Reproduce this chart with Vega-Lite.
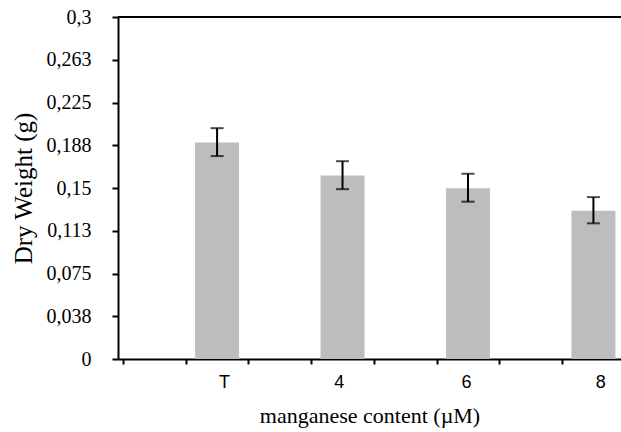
{
  "$schema": "https://vega.github.io/schema/vega-lite/v6.json",
  "width": 503,
  "height": 342,
  "autosize": {"type": "none"},
  "padding": {"left": 118, "top": 17, "right": 0, "bottom": 73},
  "background": "white",
  "config": {
    "view": {"stroke": null},
    "axis": {"domainColor": "black", "domainWidth": 2, "tickColor": "black", "tickWidth": 2, "labelColor": "black", "titleColor": "black", "grid": false}
  },
  "data": {
    "values": [
      {"group": "T", "pos": 1.5, "weight": 0.190, "lo": 0.178, "hi": 0.2025},
      {"group": "4", "pos": 3.5, "weight": 0.161, "lo": 0.149, "hi": 0.1735},
      {"group": "6", "pos": 5.5, "weight": 0.1497, "lo": 0.138, "hi": 0.1625},
      {"group": "8", "pos": 7.5, "weight": 0.130, "lo": 0.119, "hi": 0.142}
    ]
  },
  "layer": [
    {
      "mark": {"type": "bar", "color": "#bdbdbd", "width": 44},
      "encoding": {
        "x": {
          "field": "pos", "type": "quantitative",
          "scale": {"domain": [0, 7.86], "nice": false, "zero": false},
          "axis": {
            "values": [0, 1, 1.61, 2, 3, 3.44, 4, 5, 5.47, 6, 7, 7.61],
            "labelExpr": "datum.value > 1.5 && datum.value < 1.7 ? 'T' : datum.value > 3.3 && datum.value < 3.6 ? '4' : datum.value > 5.3 && datum.value < 5.6 ? '6' : datum.value > 7.5 && datum.value < 7.7 ? '8' : ''",
            "tickOpacity": {"condition": {"test": "datum.value % 1 === 0", "value": 1}, "value": 0},
            "tickSize": 5,
            "labelFont": "Liberation Sans",
            "labelFontSize": 18,
            "labelPadding": 9,
            "labelFlush": false,
            "labelOverlap": false,
            "title": "manganese content (µM)",
            "titleFont": "Liberation Serif",
            "titleFontSize": 22,
            "titleFontWeight": "normal",
            "titlePadding": 14
          }
        },
        "y": {
          "field": "weight", "type": "quantitative",
          "scale": {"domain": [0, 0.3], "nice": false},
          "axis": {
            "values": [0, 0.01875, 0.0375, 0.05625, 0.075, 0.09375, 0.1125, 0.13125, 0.15, 0.16875, 0.1875, 0.20625, 0.225, 0.24375, 0.2625, 0.28125, 0.3],
            "labelExpr": "(round(datum.value / 0.01875) % 2 === 1) ? '' : replace(format(datum.value + 0.00001, '.3~f'), '.', ',')",
            "tickSize": {"condition": {"test": "round(datum.value / 0.01875) % 2 === 1", "value": 4}, "value": 6},
            "labelFont": "Liberation Serif",
            "labelFontSize": 20,
            "labelPadding": 21,
            "labelFlush": false,
            "labelOverlap": false,
            "title": "Dry Weight (g)",
            "titleFont": "Liberation Serif",
            "titleFontSize": 25,
            "titleFontWeight": "normal",
            "titlePadding": 10
          }
        }
      }
    },
    {
      "mark": {"type": "rule", "color": "black", "strokeWidth": 2},
      "encoding": {
        "x": {"field": "pos", "type": "quantitative"},
        "y": {"field": "lo", "type": "quantitative"},
        "y2": {"field": "hi"}
      }
    },
    {
      "mark": {"type": "tick", "orient": "horizontal", "color": "black", "size": 13, "thickness": 2},
      "encoding": {
        "x": {"field": "pos", "type": "quantitative"},
        "y": {"field": "lo", "type": "quantitative"}
      }
    },
    {
      "mark": {"type": "tick", "orient": "horizontal", "color": "black", "size": 13, "thickness": 2},
      "encoding": {
        "x": {"field": "pos", "type": "quantitative"},
        "y": {"field": "hi", "type": "quantitative"}
      }
    },
    {
      "mark": {"type": "rule", "color": "black", "strokeWidth": 2},
      "encoding": {
        "y": {"datum": 0.3, "type": "quantitative"}
      }
    }
  ]
}
